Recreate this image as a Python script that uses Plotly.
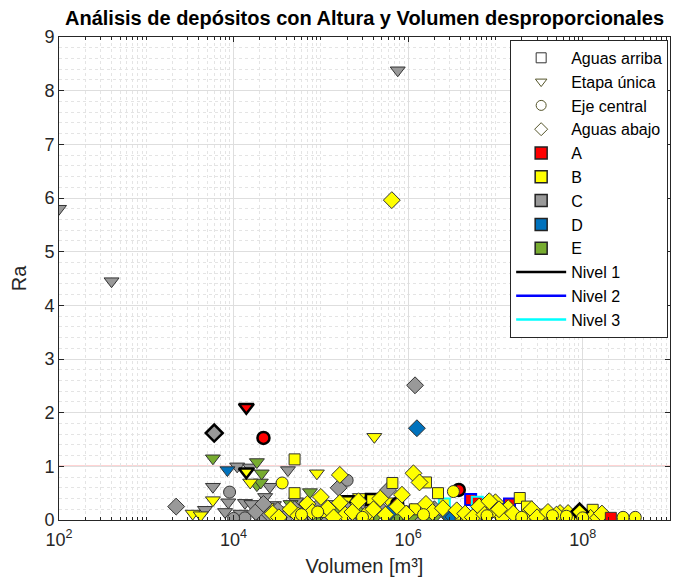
import plotly.graph_objects as go

# ---------------- data (Volumen [m3], Ra) ----------------
# Etapa única (triangles)
tri_C_V = [1.0e2, 4.0e2, 7.6e5, 5.8e3, 4.7e3, 8.0e3, 8.7e3, 1.1e4, 1.55e4, 1.35e4,
           1.6e4, 2.3e4, 2.6e4, 4.2e4, 1.2e4, 1.9e4, 2.1e4, 2.9e4, 3.4e4, 4.0e4,
           5.2e4, 6.3e4, 7.8e4, 9.5e4, 1.2e5, 1.5e5, 2.1e5, 2.6e5, 3.3e5, 4.4e5,
           5.4e5, 7.0e5, 9.0e5, 1.3e6, 2.0e6]
tri_C_Ra = [5.8, 4.45, 8.38, 0.62, 0.19, 0.15, 0.33, 1.0, 0.98, 0.32,
            0.3, 0.43, 0.62, 0.93, 0.12, 0.05, 0.2, 0.28, 0.1, 0.18,
            0.35, 0.08, 0.22, 0.05, 0.3, 0.12, 0.18, 0.05, 0.25, 0.1,
            0.15, 0.32, 0.08, 0.06, 0.12]
tri_Y_V = [3.4e3, 4.2e3, 5.8e3, 1.55e4, 9.0e4, 4.1e5, 2.8e5, 2.4e4, 3.0e4, 3.6e4,
           6.0e4, 1.3e5, 2.0e5, 6.0e5, 9.0e5, 1.6e6, 3.0e6]
tri_Y_Ra = [0.12, 0.09, 0.37, 0.7, 0.87, 1.55, 0.43, 0.25, 0.15, 0.05,
            0.22, 0.12, 0.3, 0.35, 0.2, 0.1, 0.08]
tri_G_V = [5.8e3, 1.85e4, 1.85e4, 2.05e4, 2.1e4, 7.5e4, 4.5e4, 1.2e5]
tri_G_Ra = [1.15, 1.08, 0.65, 0.7, 0.87, 0.52, 0.3, 0.15]
tri_D_V = [8.5e3, 3.4e7]
tri_D_Ra = [0.93, 0.12]
tri_A_n1_V = [1.4e4]
tri_A_n1_Ra = [2.1]
tri_Y_n1_V = [1.4e4, 2.0e5]
tri_Y_n1_Ra = [0.9, 0.38]

# Eje central (circles)
cir_C_V = [9.0e3, 1.35e4, 2.0e5, 1.0e4, 2.2e4, 3.5e4, 1.1e5, 4.0e5]
cir_C_Ra = [0.52, 0.04, 0.74, 0.03, 0.02, 0.1, 0.05, 0.12]
cir_Y_V = [3.6e4, 9.2e4, 3.3e6, 4.5e7, 2.9e8, 4.0e8, 6.0e4, 3.0e5, 1.5e6, 8.0e6,
           2.0e7, 6.5e7, 1.0e8]
cir_Y_Ra = [0.69, 0.15, 0.53, 0.08, 0.05, 0.05, 0.1, 0.05, 0.1, 0.08,
            0.05, 0.07, 0.04]
cir_A_n1_V = [2.2e4, 3.8e6, 7.5e5]
cir_A_n1_Ra = [1.53, 0.56, 0.3]

# Aguas abajo (diamonds)
dia_C_V = [2.2e3, 1.2e6, 1.6e5, 5.9e5, 2.6e4, 3.2e4, 4.0e4, 5.0e4, 6.0e4, 7.0e4,
           8.5e4, 1.0e5, 1.3e5, 2.0e5, 2.5e5, 3.0e5, 3.8e5, 4.5e5, 7.0e5, 8.5e5,
           1.1e6, 1.7e6, 2.0e6, 1.8e4, 2.2e4]
dia_C_Ra = [0.25, 2.51, 0.6, 0.56, 0.1, 0.18, 0.06, 0.2, 0.08, 0.12,
            0.05, 0.3, 0.1, 0.2, 0.08, 0.14, 0.04, 0.25, 0.1, 0.05,
            0.15, 0.08, 0.2, 0.15, 0.3]
dia_C_n1_V = [6.0e3]
dia_C_n1_Ra = [1.62]
dia_G_V = [9.0e4, 1.5e5, 4.2e5, 7.4e5, 1.1e6, 1.9e6, 2.6e5, 3.0e6]
dia_G_Ra = [0.08, 0.12, 0.1, 0.06, 0.1, 0.06, 0.15, 0.05]
dia_D_V = [1.26e6, 6.2e5, 2.9e6, 3.3e6]
dia_D_Ra = [1.71, 0.15, 0.1, 0.06]
dia_Y_V = [6.5e5, 1.65e5, 1.15e6, 1.35e6, 8.5e5, 1.0e5, 1.65e5, 1.9e5, 2.8e4, 3.3e4,
           4.5e4, 5.5e4, 7.0e4, 8.0e4, 1.2e5, 1.4e5, 2.3e5, 2.7e5, 3.2e5, 4.0e5,
           4.8e5, 5.5e5, 7.5e5, 9.5e5, 1.6e6, 1.9e6, 2.5e6, 3.6e6, 4.5e6, 5.5e6,
           6.5e6, 7.5e6, 1.0e7, 1.2e7, 1.4e7, 1.6e7, 2.2e7, 2.6e7, 3.0e7, 4.0e7,
           5.5e7, 6.8e7, 7.8e7, 1.0e8, 1.23e8, 1.5e8, 1.66e8, 8.5e6, 1.1e7, 5.0e7]
dia_Y_Ra = [5.96, 0.84, 0.87, 0.7, 0.47, 0.43, 0.32, 0.1, 0.12, 0.05,
            0.2, 0.08, 0.3, 0.15, 0.22, 0.05, 0.15, 0.35, 0.08, 0.2,
            0.4, 0.1, 0.25, 0.12, 0.3, 0.15, 0.22, 0.18, 0.12, 0.05,
            0.25, 0.1, 0.33, 0.05, 0.22, 0.12, 0.08, 0.2, 0.05, 0.15,
            0.13, 0.13, 0.04, 0.1, 0.04, 0.04, 0.12, 0.35, 0.2, 0.1]
dia_Y_n1_V = [9.2e7]
dia_Y_n1_Ra = [0.15]

# Aguas arriba (squares)
sq_Y_V = [5.0e4, 5.0e4, 6.6e5, 1.6e6, 2.2e6, 1.9e7, 2.3e7, 1.3e8, 1.0e5, 3.5e5,
          1.2e6, 4.0e6, 9.0e6, 3.5e7]
sq_Y_Ra = [1.13, 0.5, 0.69, 0.7, 0.5, 0.41, 0.25, 0.19, 0.15, 0.1,
           0.2, 0.1, 0.15, 0.1]
sq_Y_n1_V = [3.8e5]
sq_Y_n1_Ra = [0.38]
sq_Y_n3_V = [2.6e6]
sq_Y_n3_Ra = [0.3]
sq_A_V = [2.1e8]
sq_A_Ra = [0.04]
sq_A_n2_V = [5.2e6, 1.45e7]
sq_A_n2_Ra = [0.38, 0.3]
sq_A_n3_V = [6.2e6]
sq_A_n3_Ra = [0.33]

umbral = 1.0

shape_names = ["Aguas arriba", "Etapa única", "Eje central", "Aguas abajo"]
class_names = ["A", "B", "C", "D", "E"]
level_names = ["Nivel 1", "Nivel 2", "Nivel 3"]

# ---------------- styles ----------------
fills = {"A": "#ff0000", "B": "#ffff00", "C": "#999999", "D": "#0072bd", "E": "#77ac30"}
symbols = {"sq": "square", "tri": "triangle-down", "cir": "circle", "dia": "diamond"}
sizes = {"sq": 11, "tri": 13, "cir": 12, "dia": 13}
edge_col = {0: "#333333", 1: "#000000", 2: "#0000ff", 3: "#00ffff"}
edge_w = {0: 1, 1: 2.5, 2: 2, 3: 2}
level_cols = ["#000000", "#0000ff", "#00ffff"]

groups = [
    ("tri", "C", 0, tri_C_V, tri_C_Ra),
    ("tri", "E", 0, tri_G_V, tri_G_Ra),
    ("tri", "D", 0, tri_D_V, tri_D_Ra),
    ("tri", "A", 1, tri_A_n1_V, tri_A_n1_Ra),
    ("tri", "B", 0, tri_Y_V, tri_Y_Ra),
    ("tri", "B", 1, tri_Y_n1_V, tri_Y_n1_Ra),
    ("cir", "C", 0, cir_C_V, cir_C_Ra),
    ("dia", "C", 0, dia_C_V, dia_C_Ra),
    ("dia", "C", 1, dia_C_n1_V, dia_C_n1_Ra),
    ("dia", "E", 0, dia_G_V, dia_G_Ra),
    ("dia", "D", 0, dia_D_V, dia_D_Ra),
    ("cir", "A", 1, cir_A_n1_V, cir_A_n1_Ra),
    ("sq", "A", 2, sq_A_n2_V, sq_A_n2_Ra),
    ("sq", "A", 3, sq_A_n3_V, sq_A_n3_Ra),
    ("sq", "B", 3, sq_Y_n3_V, sq_Y_n3_Ra),
    ("sq", "B", 0, sq_Y_V, sq_Y_Ra),
    ("sq", "B", 1, sq_Y_n1_V, sq_Y_n1_Ra),
    ("dia", "B", 0, dia_Y_V, dia_Y_Ra),
    ("dia", "B", 1, dia_Y_n1_V, dia_Y_n1_Ra),
    ("cir", "B", 0, cir_Y_V, cir_Y_Ra),
    ("sq", "A", 0, sq_A_V, sq_A_Ra),
]

fig = go.Figure()

for shp, cls, lev, xs, ys in groups:
    fig.add_trace(go.Scatter(
        x=xs, y=ys, mode="markers", showlegend=False, cliponaxis=True,
        marker=dict(symbol=symbols[shp], size=sizes[shp], color=fills[cls],
                    line=dict(color=edge_col[lev], width=edge_w[lev])),
    ))

# legend entries
leg_sym = ["square", "triangle-down", "circle", "diamond"]
leg_edge = ["#333333", "#55552a", "#55552a", "#55552a"]
k = 0
for name, sym, ec in zip(shape_names, leg_sym, leg_edge):
    fig.add_trace(go.Scatter(
        x=[None], y=[None], mode="markers", name=name, legendgroup="g%d" % k,
        marker=dict(symbol=sym, size=10, color="white", line=dict(color=ec, width=1)),
    ))
    k += 1
for name in class_names:
    fig.add_trace(go.Bar(
        x=[None], y=[None], name=name, legendgroup="g%d" % k,
        marker=dict(color=fills[name], line=dict(color="#222222", width=1.5)),
    ))
    k += 1
for name, c in zip(level_names, level_cols):
    fig.add_trace(go.Scatter(
        x=[None], y=[None], mode="lines", name=name, legendgroup="g%d" % k,
        line=dict(color=c, width=2.5),
    ))
    k += 1

fig.add_shape(type="line", xref="paper", x0=0, x1=1, yref="y", y0=umbral, y1=umbral,
              line=dict(color="#ff0000", width=1), layer="between")

minor_x = [m * 10 ** e for e in range(2, 9) for m in range(1, 10)
           if not (m == 1 and e % 2 == 0)]

axis_col = "#262626"
fig.update_layout(
    width=675, height=584,
    margin=dict(l=59, r=5, t=37, b=64),
    paper_bgcolor="white", plot_bgcolor="white",
    font=dict(family="Liberation Sans, Arial, sans-serif", size=18, color=axis_col),
    title=dict(text="<b>Análisis de depósitos con Altura y Volumen desproporcionales</b>",
               x=(59 + 670) / 2 / 675, xanchor="center", y=1 - 18 / 584, yanchor="middle",
               font=dict(size=20, color="#000000")),
    showlegend=True,
    legend=dict(x=0.997, xanchor="right", y=0.994, yanchor="top",
                bgcolor="white", bordercolor="#262626", borderwidth=1,
                font=dict(size=16, color="#000000"), tracegroupgap=0,
                itemwidth=50),
    xaxis=dict(type="log", range=[2, 9],
               tickvals=[1e2, 1e4, 1e6, 1e8],
               ticktext=["10<sup>2</sup>", "10<sup>4</sup>", "10<sup>6</sup>", "10<sup>8</sup>"],
               ticks="inside", ticklen=5, tickcolor=axis_col, ticklabelstandoff=3,
               showline=True, linecolor=axis_col, linewidth=1, mirror="ticks",
               showgrid=True, gridcolor="#dedede", gridwidth=1, zeroline=False,
               minor=dict(tickmode="array", tickvals=minor_x, ticks="inside", ticklen=3,
                          tickcolor=axis_col, showgrid=True, gridcolor="#e4e4e4",
                          griddash="dot", gridwidth=1),
               title=dict(text="Volumen [m³]", standoff=10, font=dict(size=20)),
               tickfont=dict(size=18)),
    yaxis=dict(range=[0, 9], dtick=1, tick0=0,
               ticks="inside", ticklen=5, tickcolor=axis_col,
               showline=True, linecolor=axis_col, linewidth=1, mirror="ticks",
               showgrid=True, gridcolor="#dedede", gridwidth=1, zeroline=False,
               minor=dict(dtick=0.2, showgrid=True, gridcolor="#e4e4e4",
                          griddash="dot", gridwidth=1),
               title=dict(text="Ra", standoff=12, font=dict(size=20)),
               tickfont=dict(size=18)),
)

fig.write_html("out.html")
